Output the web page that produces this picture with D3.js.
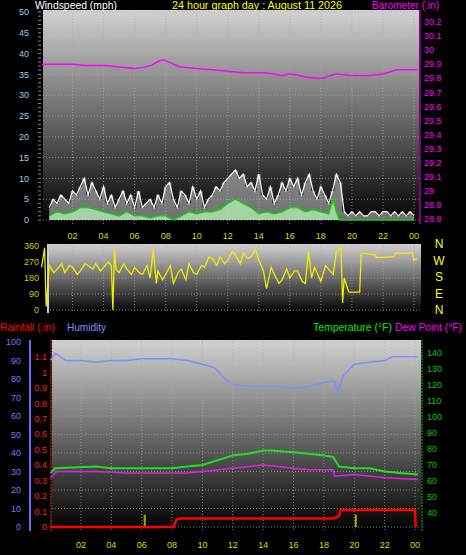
<!DOCTYPE html>
<html><head><meta charset="utf-8">
<script src="https://cdn.jsdelivr.net/npm/d3@7"></script>
<style>body{margin:0;background:#000}svg{display:block;font-family:"Liberation Sans",Arial,sans-serif}</style>
</head><body><svg id="c" width="466" height="555"></svg>
<script>
// ---- data ----
const hourTicks = [2,4,6,8,10,12,14,16,18,20,22,24];
const hourLabels = ["02","04","06","08","10","12","14","16","18","20","22","00"];
const gustTimes = d3.range(0.5,24.01,0.25);
const gustValues = [3,5,4,6,5,4,7,6,8,10,6,9,7,5,8,4,6,3,5,7,4,6,3,7,3,4,5,3,6,4,8,9,5,3,7,6,4,8,5,7,3,5,6,8,7,9,10,11,12,10,11,8,9,7,11,6,5,8,4,6,9,7,10,8,10,6,9,11,7,5,8,6,4,7,11,9,2,1,2,1,2,1,1,2,2,1,2,2,1,2,1,2,1,2,1,2,1,2];
const avgTimes = [0.5,1,1.5,2,2.5,3,3.5,4,4.5,5,5.5,6,6.5,7,7.5,8,8.5,9,9.5,10,10.5,11,11.5,12,12.5,13,13.5,14,14.5,15,15.5,16,16.5,17,17.5,18,18.5,18.8,19,19.2,24];
const avgValues = [1,2,1.5,2,3,3,2.5,2,1.5,1,2,1,1,0.5,1,1,0,1,2,1.5,2,2,2.5,4,5,4,3,1.5,2,1.5,2,3,3,2,2.5,2,1.5,5,2,0,0];
const baroTimes = [0,1,2,3,4,5,6,7,7.8,8.5,9,10,11,12,13,14,15,15.5,16,17,18,19,20,21,22,23,24.2];
const baroValues = [29.9,29.9,29.9,29.89,29.89,29.88,29.87,29.89,29.93,29.9,29.88,29.87,29.86,29.85,29.84,29.84,29.83,29.82,29.83,29.81,29.8,29.83,29.82,29.82,29.83,29.86,29.86];
const dirTimes = [0,0.2,0.3,0.5,0.8,1,1.3,1.5,1.8,2,2.3,2.5,2.8,3,3.3,3.5,3.8,4,4.3,4.5,4.6,4.7,4.8,5,5.3,5.5,5.8,6,6.3,6.5,6.8,7,7.2,7.4,7.5,7.8,8,8.3,8.5,8.8,9,9.3,9.5,9.8,10,10.3,10.5,10.8,11,11.3,11.5,11.8,12,12.3,12.5,12.8,13,13.3,13.5,13.8,14,14.3,14.5,14.8,15,15.3,15.5,15.8,16,16.3,16.5,16.8,17,17.2,17.4,17.6,18,18.3,18.5,18.8,19,19.3,19.4,19.5,19.8,20.5,20.6,21.5,21.6,22.7,22.8,23.9,24,24.2];
const dirValues = [240,350,20,250,210,230,260,210,250,240,200,220,260,250,230,260,220,240,270,250,0,340,230,210,260,230,200,240,210,200,250,180,340,150,220,170,200,250,150,210,230,170,260,210,200,250,240,300,290,250,300,260,280,330,310,260,320,290,300,340,280,220,120,240,200,150,170,230,180,220,220,160,150,330,180,240,160,250,230,200,330,350,40,180,100,100,320,310,295,300,320,320,280,290];
const humTimes = [0,0.3,1,2,3,4,5,6,7,8,9,10,10.8,11.5,12,13,14,15,16,17,18,18.7,18.9,19.3,20,21,22,22.5,24.2];
const humValues = [90,94,90,90,89,90,90,91,91,91,90,88,86,80,77,76,76,76,75,76,78,79,73,82,88,89,90,92,92];
const tempTimes = [0,0.3,3,4,6,7,8,9,10,11,12,13,14,14.5,16,17,18,18.6,19,20,21,22,23,24.2];
const tempValues = [65,68,69,68,68,68,68,69,70,73,76,77,79,79,78,77,76,75,69,68,68,66,65,64];
const dewTimes = [0,0.4,3,5,8,9,10,11,12,14,15,16,17,18.6,18.7,20,22,24.2];
const dewValues = [62,66,66,65,65,65,66,67,68,70,69,68,67,67,63,64,62,61];
const rainTimes = [0,8.1,8.3,8.6,18.6,19,19.1,24,24.05];
const rainValues = [0,0,0.05,0.055,0.055,0.07,0.11,0.11,0];
const rateTimes = [6.2,20.1];
const rateValues = [0.08,0.08];

const svg = d3.select("#c");
const defs = svg.append("defs");
const g = defs.append("linearGradient").attr("id","bg").attr("x1",0).attr("y1",0).attr("x2",0).attr("y2",1);
g.append("stop").attr("offset","0%").attr("stop-color","#d2d2d2");
g.append("stop").attr("offset","100%").attr("stop-color","#000");

function panel(x0,x1,y0,y1){
  svg.append("rect").attr("x",x0).attr("y",y0).attr("width",x1-x0).attr("height",y1-y0).attr("fill","url(#bg)");
}
function grid(xs,ys,x0,x1,y0,y1){
  svg.append("g").selectAll("line").data(xs).join("line").attr("x1",d=>d).attr("x2",d=>d).attr("y1",y0).attr("y2",y1)
    .attr("stroke","#aaa").attr("stroke-dasharray","1,2").attr("stroke-opacity",0.7);
  svg.append("g").selectAll("line").data(ys).join("line").attr("y1",d=>d).attr("y2",d=>d).attr("x1",x0).attr("x2",x1)
    .attr("stroke","#aaa").attr("stroke-dasharray","1,2").attr("stroke-opacity",0.7);
}
function label(x,y,t,c,w){const e=svg.append("text").attr("x",x).attr("y",y).attr("fill",c).attr("font-size",11).text(t);
  if(w) e.attr("textLength",w).attr("lengthAdjust","spacingAndGlyphs");}
function ticksText(vals,fx,fy,fmt,c,anchor,size){
  svg.append("g").selectAll("text").data(vals).join("text").attr("x",fx).attr("y",fy).attr("fill",c)
    .attr("font-size",size||9).attr("text-anchor",anchor).attr("dy","0.35em").text(fmt);
}

// ---- top panel ----
const xT = d3.scaleLinear().domain([0,24]).range([41.5,414]);
const yW = d3.scaleLinear().domain([0,50]).range([220,12]);
const yB = d3.scaleLinear().domain([28.8,30.2]).range([219,22]);
panel(43,419,10,224);
grid(hourTicks.map(xT),d3.range(0,51,5).map(yW),43,419,10,224);
svg.append("path").datum(gustTimes.map((t,i)=>[t,gustValues[i]]))
  .attr("d",d3.area().x(d=>xT(d[0])).y0(yW(0)).y1(d=>yW(d[1])).curve(d3.curveStep)).attr("fill","#bbb").attr("fill-opacity",0.6);
svg.append("path").datum(gustTimes.map((t,i)=>[t,gustValues[i]]))
  .attr("d",d3.line().x(d=>xT(d[0])).y(d=>yW(d[1]))).attr("fill","none").attr("stroke","#fff").attr("stroke-width",1.2);
svg.append("path").datum(avgTimes.map((t,i)=>[t,avgValues[i]]))
  .attr("d",d3.area().x(d=>xT(d[0])).y0(yW(0)).y1(d=>yW(d[1]))).attr("fill","#b8f0b8").attr("fill-opacity",0.75);
svg.append("path").datum(avgTimes.map((t,i)=>[t,avgValues[i]]))
  .attr("d",d3.line().x(d=>xT(d[0])).y(d=>yW(d[1]))).attr("fill","none").attr("stroke","#1c1").attr("stroke-width",1.5);
svg.append("path").datum(baroTimes.map((t,i)=>[t,baroValues[i]]))
  .attr("d",d3.line().x(d=>xT(d[0])).y(d=>yB(d[1])).curve(d3.curveMonotoneX)).attr("fill","none").attr("stroke","#f0f").attr("stroke-width",1.5);
ticksText(d3.range(0,51,5),29,d=>yW(d),d=>d,"#9cd0f0","end");
svg.append("g").selectAll("line").data(d3.range(0,50.1,1)).join("line").attr("x1",38).attr("x2",41).attr("y1",d=>yW(d)).attr("y2",d=>yW(d)).attr("stroke","#888");
svg.append("line").attr("x1",420).attr("x2",420).attr("y1",10).attr("y2",224).attr("stroke","#f0f");
ticksText(d3.range(28.8,30.21,0.1),424,d=>yB(d),d=>d3.format("~g")(+d.toFixed(1)),"#f0f","start");
ticksText(hourTicks,d=>xT(d),236,(d,i)=>hourLabels[i],"#dd0","middle");
label(35,9,"Windspeed (mph)","#fff",82);
label(172,9,"24 hour graph day : August 11 2026","#ff0",170);
label(372,9,"Barometer (.in)","#f0f",67);

// ---- middle panel ----
const yD = d3.scaleLinear().domain([0,360]).range([310,246]);
panel(47,421,244,313);
grid(hourTicks.map(xT),d3.range(0,361,90).map(yD),47,421,244,313);
svg.append("line").attr("x1",48).attr("x2",48).attr("y1",244).attr("y2",313).attr("stroke","#ccc").attr("stroke-width",2);
svg.append("path").datum(dirTimes.map((t,i)=>[t,dirValues[i]]))
  .attr("d",d3.line().x(d=>xT(d[0])).y(d=>yD(d[1]))).attr("fill","none").attr("stroke","#ee0").attr("stroke-width",1.3);
ticksText([0,90,180,270,360],39,d=>yD(d),d=>d,"#cc0","end");
ticksText(["N","W","S","E","N"],439,(d,i)=>244+i*16.5,d=>d,"#ff0","middle",12);

// ---- bottom panel ----
const xB = d3.scaleLinear().domain([0,24]).range([50.6,415]);
const yH = d3.scaleLinear().domain([0,100]).range([527,342]);
const yR = d3.scaleLinear().domain([0,1.1]).range([527,357]);
const yTp = d3.scaleLinear().domain([40,140]).range([513,353]);
panel(52,421,340,531);
grid(hourTicks.map(xB),d3.range(0,101,10).map(yH),52,421,340,531);
label(0,331,"Rainfall (.in)","#f00",55);
label(67,331,"Humidity","#88f",39);
label(313,331,"Temperature (°F)","#0e0",79);
label(395,331,"Dew Point (°F)","#f0f",67);
svg.append("line").attr("x1",30).attr("x2",30).attr("y1",340).attr("y2",531).attr("stroke","#66f").attr("stroke-width",2);
svg.append("line").attr("x1",51).attr("x2",51).attr("y1",340).attr("y2",531).attr("stroke","#f33").attr("stroke-dasharray","2,1");
svg.append("line").attr("x1",422).attr("x2",422).attr("y1",340).attr("y2",531).attr("stroke","#0c0").attr("stroke-dasharray","2,1");
ticksText(d3.range(0,101,10),21,d=>yH(d),d=>d,"#77f","end");
ticksText(d3.range(0,12,1).map(d=>d/10),47,d=>yR(d),d=>d3.format("~g")(d),"#f22","end");
ticksText(d3.range(40,141,10),427,d=>yTp(d),d=>d,"#0c0","start");
svg.append("g").selectAll("rect").data(rateTimes).join("rect").attr("x",d=>xB(d)-1).attr("width",2)
  .attr("y",(d,i)=>yR(rateValues[i])).attr("height",(d,i)=>yR(0)-yR(rateValues[i])).attr("fill","#aa0");
function ln(ts,vs,y,c,w){svg.append("path").datum(ts.map((t,i)=>[t,vs[i]]))
  .attr("d",d3.line().x(d=>xB(d[0])).y(d=>y(d[1]))).attr("fill","none").attr("stroke",c).attr("stroke-width",w);}
ln(humTimes,humValues,yH,"#88f",1.5);
ln(tempTimes,tempValues,yTp,"#2d2",2);
ln(dewTimes,dewValues,yTp,"#d2d",1.5);
ln(rainTimes,rainValues,yR,"#f00",2.5);
ticksText(hourTicks,d=>xB(d),545,(d,i)=>hourLabels[i],"#dd0","middle");
</script></body></html>
